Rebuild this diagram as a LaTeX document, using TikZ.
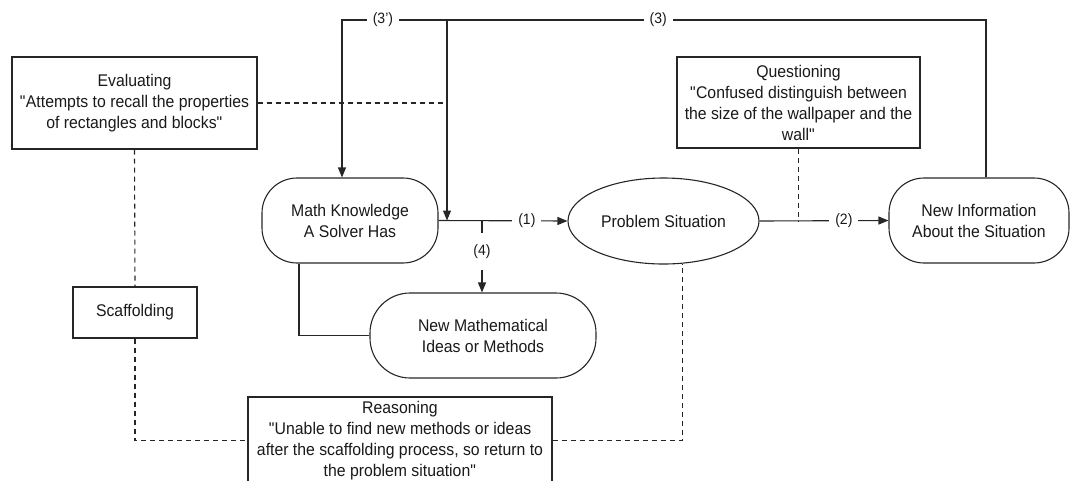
\documentclass[tikz,border=0pt]{standalone}
\usepackage{fontspec}
\setmainfont[FakeStretch=0.935]{Liberation Sans}
\usetikzlibrary{shapes.geometric,arrows.meta}
\newcommand{\dq}{\textquotedbl}
\begin{document}
\begin{tikzpicture}[x=1pt,y=-1pt,
  every node/.style={font=\fontsize{16.9}{21}\selectfont, text=black!90},
  ln/.style={line width=1.1pt, draw=black!85},
  arr/.style={ln, -{Triangle[length=10pt,width=8pt]}},
  dsh/.style={ln, dash pattern=on 5pt off 4pt},
  box/.style={draw=black!85, line width=1.1pt, rectangle, align=center, inner sep=0pt},
  pill/.style={draw=black!85, line width=1.1pt, rectangle, rounded corners=#1, align=center, inner sep=0pt},
  ell/.style={draw=black!85, line width=1.1pt, ellipse, inner sep=0pt},
  lbl/.style={fill=white, inner xsep=6pt, inner ysep=2pt, font=\fontsize{15}{16}\selectfont}
]
\useasboundingbox (0,0) rectangle (1073,480);
\clip (0,0) rectangle (1073,480);

% nodes
\node[box, minimum width=245pt, minimum height=92pt] (eval) at (134.5,103)
  {Evaluating\\\dq Attempts to recall the properties\\of rectangles and blocks\dq};
\node[box, minimum width=124pt, minimum height=51pt] (scaf) at (135,312.5) {Scaffolding};
\node[pill=35pt, minimum width=176pt, minimum height=85pt] (mk) at (350,220.5)
  {Math Knowledge\\A Solver Has};
\node[ell, minimum width=191pt, minimum height=86pt] (ps) at (663.5,221) {Problem Situation};
\node[pill=35pt, minimum width=180pt, minimum height=85pt] (ni) at (979,220.5)
  {New Information\\About the Situation};
\node[pill=40pt, minimum width=226pt, minimum height=85pt] (nm) at (483,335.5)
  {New Mathematical\\Ideas or Methods};
\node[box, minimum width=243pt, minimum height=91pt] (q) at (798.5,102.5)
  {Questioning\\\dq Confused distinguish between\\the size of the wallpaper and the\\wall\dq};
\node[box, minimum width=304pt, minimum height=87pt] (r) at (400,440.5)
  {Reasoning\\\dq Unable to find new methods or ideas\\after the scaffolding process, so return to\\the problem situation\dq};

% coordinates
\coordinate (t1) at (342,20);
\coordinate (t3) at (447,20);
\coordinate (t4) at (986,20);
\coordinate (m1) at (299,0);
\coordinate (j1) at (t3 |- mk.east);
\coordinate (j2) at (482,220.5);
\node[inner sep=0pt, minimum height=37pt, font=\fontsize{15}{16}\selectfont] (l4) at (482,251.5) {(4)};

% solid connectors
\draw[arr] (ni.north -| t4) -- (t4)
  -- node[lbl, pos=0.608] {(3)} (t3)
  -- node[lbl, pos=0.61] {(3')} (t1)
  -- (t1 |- mk.north);
\draw[arr] (t3) -- (j1);
\draw[arr] (mk.east) -- node[lbl, pos=0.685] {(1)} (ps.west);
\draw[arr] (ps.east) -- node[lbl, pos=0.654] {(2)} (ni.west);
\draw[ln] (j2) -- (l4.north);
\draw[arr] (l4.south) -- (l4.south |- nm.north);
\draw[ln] (mk.south -| m1) |- (nm.west);

% dashed connectors
\draw[dsh] (eval.east) -- (eval.east -| t3);
\draw[dsh] (eval.south) -- (scaf.north);
\draw[dsh] (scaf.south) |- (r.west);
\draw[dsh] (r.east) -| (ps.-66);
\draw[dsh] (q.south) -- (q.south |- ps.east);
\end{tikzpicture}
\end{document}
